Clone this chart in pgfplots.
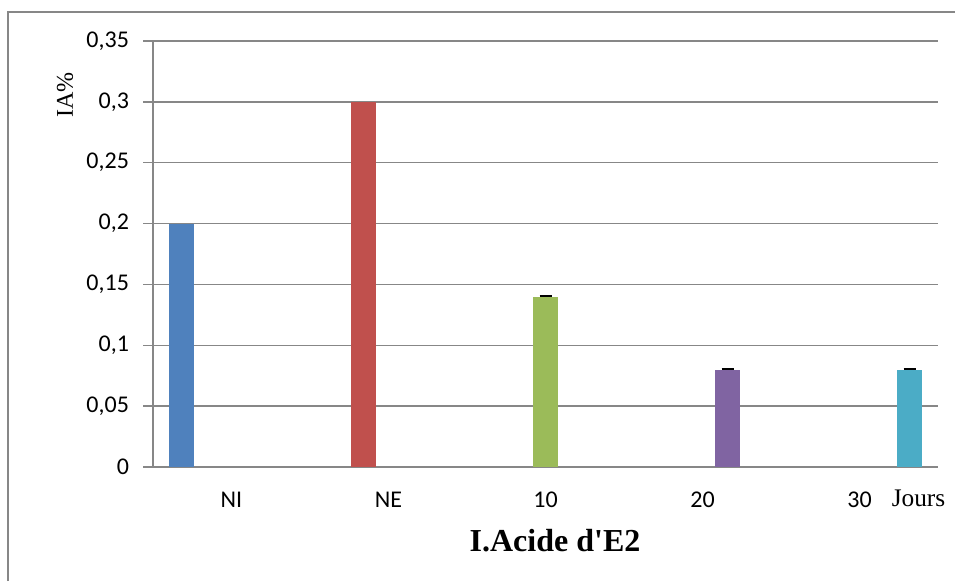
\documentclass[border=0pt]{standalone}
\usepackage{pgfplots}
\pgfplotsset{compat=1.18}
\usepackage{fontspec}
\setmainfont{Liberation Serif}
\newfontfamily\titlefont{Liberation Serif}[Ligatures=TeXOff]
\newfontfamily\calibri{Carlito}
\definecolor{gridgray}{HTML}{878787}
\definecolor{c1}{HTML}{4F81BD}
\definecolor{c2}{HTML}{C0504D}
\definecolor{c3}{HTML}{9BBB59}
\definecolor{c4}{HTML}{8064A2}
\definecolor{c5}{HTML}{4BACC6}
\begin{document}
\begin{tikzpicture}
\useasboundingbox (0,0) rectangle (716.25pt,435.75pt);
\draw[gridgray, line width=1.5pt] (6pt,0) -- (6pt,426.75pt) -- (716.25pt,426.75pt);
\begin{axis}[
  at={(114.75pt,85.5pt)}, anchor=south west,
  scale only axis, width=588.75pt, height=319.5pt,
  xmin=-0.5, xmax=4.5, ymin=0, ymax=0.35,
  axis lines=left, axis line style={-, gridgray, line width=1.1pt},
  ybar=0pt, bar width=18.75pt,
  ytick={0,0.05,...,0.351},
  yticklabels={0,{0,05},{0,1},{0,15},{0,2},{0,25},{0,3},{0,35}},
  ymajorgrids, grid style={gridgray, line width=1.1pt},
  tick style={gridgray, line width=1.1pt},
  ytick align=outside, major tick length=7.5pt,
  xtick={0,1,2,3,4}, xticklabels={NI,NE,10,20,30},
  xtick style={draw=none},
  extra x ticks={-0.5,0.5,1.5,2.5,3.5,4.5},
  extra x tick labels={},
  extra x tick style={grid=none, xtick align=outside, major tick length=6pt, tick style={draw=gridgray, line width=1.1pt}},
  tick label style={font=\calibri\fontsize{18}{20}\selectfont, text=black},
  xticklabel style={yshift=-8pt},
  yticklabel style={xshift=-7pt},
  error bars/error bar style={draw=none},
  error bars/error mark options={black, mark size=4.5pt, line width=1.4pt},
  clip=false,
]
\addplot[fill=c1, draw=none] coordinates {(0,0.2)};
\addplot[fill=c2, draw=none] coordinates {(1,0.3)};
\addplot[fill=c3, draw=none, error bars/.cd, y dir=plus, y explicit, error mark=|] coordinates {(2,0.14) +- (0,0.0003)};
\addplot[fill=c4, draw=none, error bars/.cd, y dir=plus, y explicit, error mark=|] coordinates {(3,0.08) +- (0,0.0003)};
\addplot[fill=c5, draw=none, error bars/.cd, y dir=plus, y explicit, error mark=|] coordinates {(4,0.08) +- (0,0.0003)};
\end{axis}
\node[font=\fontsize{18}{20}\selectfont, rotate=90] at (48.75pt,364.5pt) {IA\%};
\node[font=\fontsize{19}{21}\selectfont] at (688.9pt,62.25pt) {Jours};
\node[font=\titlefont\bfseries\fontsize{24}{28}\selectfont] at (416.25pt,30.5pt) {I.Acide d'E2};
\end{tikzpicture}
\end{document}
